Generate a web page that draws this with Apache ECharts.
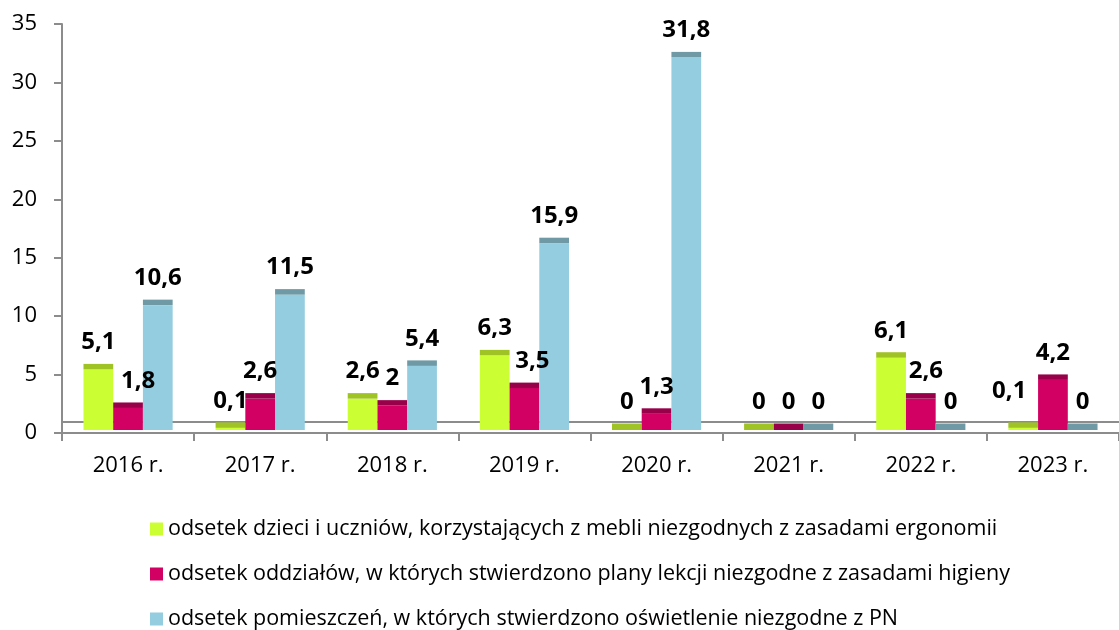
<!DOCTYPE html>
<html>
<head>
<meta charset="utf-8">
<style>
    html, body { margin: 0; padding: 0; background: #fff; }
    #chartBox { width: 1119px; height: 630px; }
</style>
<script src="https://cdn.jsdelivr.net/npm/echarts@6/dist/echarts.min.js"></script>
</head>
<body>
<div id="chartBox"></div>
<script>
const categories = ['2016 r.', '2017 r.', '2018 r.', '2019 r.', '2020 r.', '2021 r.', '2022 r.', '2023 r.'];
const furniture = [5.1, 0.1, 2.6, 6.3, 0, 0, 6.1, 0.1];
const schedule = [1.8, 2.6, 2, 3.5, 1.3, 0, 2.6, 4.2];
const lighting = [10.6, 11.5, 5.4, 15.9, 31.8, 0, 0, 0];
const yTicks = [0, 5, 10, 15, 20, 25, 30, 35];

const seriesNames = [
    'odsetek dzieci i uczniów, korzystających z mebli niezgodnych z zasadami ergonomii',
    'odsetek oddziałów, w których stwierdzono plany lekcji niezgodne z zasadami higieny',
    'odsetek pomieszczeń, w których stwierdzono oświetlenie niezgodne z PN'
];
const colors = ['#ccff33', '#d20062', '#93cddf'];
const capColors = ['#9fc224', '#98004a', '#6f9aa5'];
// etykiety przesunięte ręcznie jak w oryginale
const labelNudge = { '1:0': [10, 0], '1:3': [8, 0], '1:6': [5, 0], '0:7': [-14, -10] };

const fontName = '"Open Sans", "DejaVu Sans", sans-serif';

function fmt(v) {
    return String(v).replace('.', ',');
}

// słupek "3D": korpus + ciemniejsza górna ścianka
function makeRender(idx) {
    return function (params, api) {
        const cat = api.value(0);
        const v = api.value(1);
        const base = api.coord([cat, 0]);
        const top = api.coord([cat, v]);
        const band = api.size([1, 0])[0];
        const w = band * 0.225;
        const x = base[0] + (idx - 1.5) * w;
        const y0 = base[1] - 3;
        const y1 = top[1] - 9.5;
        const cap = 5.5;
        const children = [];
        const bodyH = y0 - (y1 + cap);
        if (bodyH > 2) {
            children.push({
                type: 'rect',
                shape: { x: x, y: y1 + cap, width: w, height: bodyH },
                style: { fill: colors[idx] }
            });
        }
        children.push({
            type: 'rect',
            shape: { x: x, y: y1, width: w, height: bodyH > 2 ? cap : y0 - y1 },
            style: { fill: capColors[idx] }
        });
        const nudge = labelNudge[idx + ':' + params.dataIndex] || [0, 0];
        children.push({
            type: 'text',
            z2: 100,
            x: x + w / 2 + nudge[0],
            y: y1 - 21.5 + nudge[1],
            style: {
                text: fmt(v),
                fill: '#000',
                font: 'bold 24px ' + fontName,
                align: 'center',
                verticalAlign: 'middle'
            }
        });
        return { type: 'group', children: children };
    };
}

const seriesData = [furniture, schedule, lighting];

const chart = echarts.init(document.getElementById('chartBox'));

const series = seriesData.map(function (arr, i) {
    const s = {
        name: seriesNames[i],
        type: 'custom',
        renderItem: makeRender(i),
        itemStyle: { color: colors[i] },
        encode: { x: 0, y: 1 },
        data: arr.map(function (v, j) { return [j, v]; }),
        z: 3
    };
    if (i === 0) {
        // tylna krawędź "podłogi" wykresu
        s.markLine = {
            silent: true,
            symbol: 'none',
            z: 1,
            label: { show: false },
            lineStyle: { color: '#8c8c8c', width: 2, type: 'solid' },
            data: [{ yAxis: 1 }]
        };
    }
    return s;
});

const option = {
    animation: false,
    grid: {
        left: 62,
        right: -10,
        top: 24,
        bottom: 197
    },
    xAxis: {
        type: 'category',
        data: categories,
        boundaryGap: true,
        axisLine: { lineStyle: { color: '#8c8c8c', width: 2 } },
        axisTick: { show: true, length: 8, lineStyle: { color: '#8c8c8c', width: 2 } },
        axisLabel: {
            color: '#000',
            fontSize: 22,
            fontFamily: fontName,
            margin: 22,
            interval: 0
        },
        splitLine: { show: false }
    },
    yAxis: {
        type: 'value',
        min: yTicks[0],
        max: yTicks[yTicks.length - 1],
        interval: 5,
        axisLine: { show: true, lineStyle: { color: '#8c8c8c', width: 2 } },
        axisTick: { show: true, length: 8, lineStyle: { color: '#8c8c8c', width: 2 } },
        axisLabel: {
            color: '#000',
            fontSize: 22,
            fontFamily: fontName,
            margin: 25
        },
        splitLine: { show: false }
    },
    legend: {
        orient: 'vertical',
        left: 150,
        top: 518,
        padding: 0,
        itemWidth: 13,
        itemHeight: 13,
        itemGap: 23,
        icon: 'rect',
        textStyle: { color: '#000', fontSize: 21.5, fontFamily: fontName },
        selectedMode: false,
        data: seriesNames
    },
    series: series
};

chart.setOption(option);
</script>
</body>
</html>
